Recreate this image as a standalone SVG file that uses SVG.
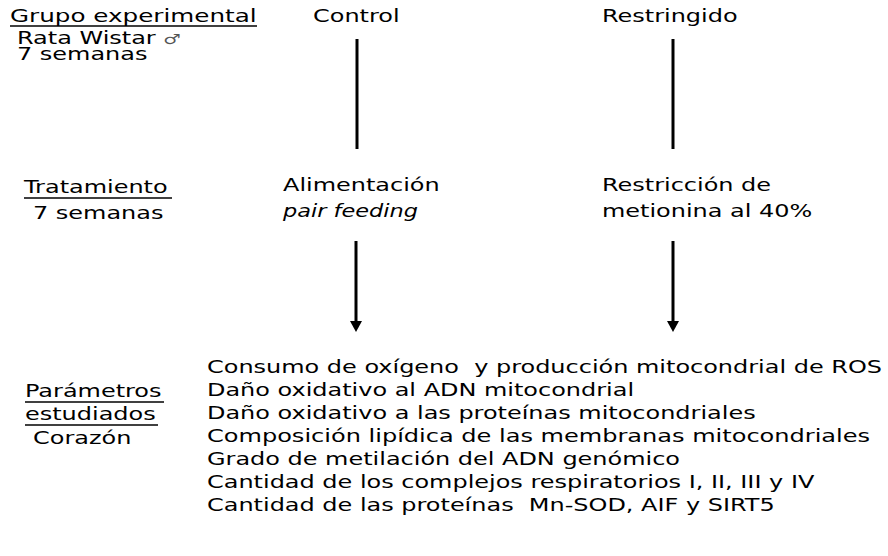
<svg xmlns="http://www.w3.org/2000/svg" width="888" height="556" viewBox="0 0 888 556">
<style>
text{font-family:"DejaVu Sans",Verdana,sans-serif;font-size:17.5px;fill:#000;white-space:pre;}
.u{stroke:#000;stroke-width:1.5;}
.ln{stroke:#000;stroke-width:3;fill:none;}
.hd{fill:#000;}
</style>
<rect width="888" height="556" fill="#fff"/>
<g id="grupo">
<text transform="matrix(1.37 0 0 1 10 22)" textLength="180" lengthAdjust="spacingAndGlyphs">Grupo experimental</text>
<line class="u" x1="10" y1="26" x2="257" y2="26"/>
<text transform="matrix(1.37 0 0 1 17 44)">Rata Wistar <tspan font-size="14" fill="#555">♂</tspan></text>
<text transform="matrix(1.37 0 0 1 17 60)">7 semanas</text>
</g>
<g id="control"><text transform="matrix(1.37 0 0 1 313 22)">Control</text></g>
<g id="restringido"><text transform="matrix(1.37 0 0 1 602 22)">Restringido</text></g>
<g id="tratamiento">
<text transform="matrix(1.37 0 0 1 24 193)">Tratamiento</text>
<line class="u" x1="24" y1="198" x2="172" y2="198"/>
<text transform="matrix(1.37 0 0 1 33 219)">7 semanas</text>
</g>
<g id="alimentacion">
<text transform="matrix(1.37 0 0 1 283 191)">Alimentación</text>
<text transform="matrix(1.37 0 0 1 283 217)" font-style="italic" textLength="98.5" lengthAdjust="spacingAndGlyphs">pair feeding</text>
</g>
<g id="restriccion">
<text transform="matrix(1.37 0 0 1 602 191)">Restricción de</text>
<text transform="matrix(1.37 0 0 1 602 217)">metionina al 40%</text>
</g>
<g id="parametros">
<text transform="matrix(1.37 0 0 1 25 397)">Parámetros</text>
<line class="u" x1="25" y1="402" x2="164" y2="402"/>
<text transform="matrix(1.37 0 0 1 25 420)">estudiados</text>
<line class="u" x1="25" y1="425" x2="158" y2="425"/>
<text transform="matrix(1.37 0 0 1 33 444)">Corazón</text>
</g>
<g id="lista">
<text transform="matrix(1.37 0 0 1 207 373)" textLength="492.7" lengthAdjust="spacingAndGlyphs">Consumo de oxígeno  y producción mitocondrial de ROS</text>
<text transform="matrix(1.37 0 0 1 207 396)">Daño oxidativo al ADN mitocondrial</text>
<text transform="matrix(1.37 0 0 1 207 419)">Daño oxidativo a las proteínas mitocondriales</text>
<text transform="matrix(1.37 0 0 1 207 442)" textLength="484" lengthAdjust="spacingAndGlyphs">Composición lipídica de las membranas mitocondriales</text>
<text transform="matrix(1.37 0 0 1 207 465)">Grado de metilación del ADN genómico</text>
<text transform="matrix(1.37 0 0 1 207 488)">Cantidad de los complejos respiratorios I, II, III y IV</text>
<text transform="matrix(1.37 0 0 1 207 511)">Cantidad de las proteínas  Mn-SOD, AIF y SIRT5</text>
</g>
<g id="connectors">
<line class="ln" x1="357" y1="39" x2="357" y2="149"/>
<line class="ln" x1="673" y1="39" x2="673" y2="149"/>
<line class="ln" x1="356" y1="241" x2="356" y2="323"/>
<path class="hd" d="M350,321 L362,321 L356,332 Z"/>
<line class="ln" x1="673" y1="241" x2="673" y2="323"/>
<path class="hd" d="M667,321 L679,321 L673,332 Z"/>
</g>
</svg>
